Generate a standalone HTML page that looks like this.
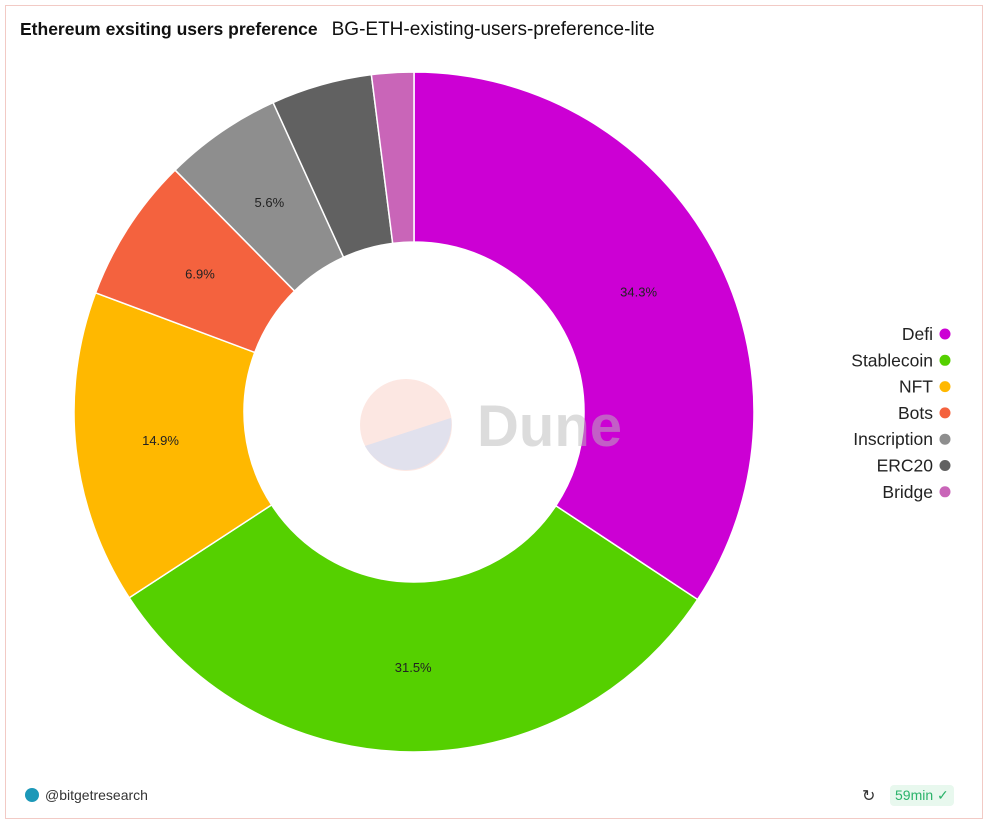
<!DOCTYPE html>
<html><head><meta charset="utf-8"><style>
body{margin:0;width:990px;height:830px;background:#fff;font-family:"Liberation Sans",sans-serif;overflow:hidden}
.card{position:absolute;left:5px;top:5px;width:978px;height:814px;border:1px solid #f2cac5;box-sizing:border-box}
.title{position:absolute;left:20px;top:19px;font-size:19px;color:#111}
.title b{font-weight:bold;font-size:17.5px;margin-right:14px}
.foot{position:absolute;left:25px;top:787px;font-size:14px;color:#333;display:flex;align-items:center}
.dot{width:14px;height:14px;border-radius:50%;background:#1c98b8;margin-right:6px}
.badge{position:absolute;left:890px;top:785px;background:#e8f8ee;color:#2bb36a;font-size:14px;padding:2px 5px;border-radius:4px}
.refresh{position:absolute;left:862px;top:786px;font-size:16px;color:#333}
</style></head><body>
<div class="card"></div>
<div class="title"><b>Ethereum exsiting users preference</b>BG-ETH-existing-users-preference-lite</div>
<svg id="chart" width="990" height="830" style="position:absolute;left:0;top:0"></svg>
<div class="foot"><div class="dot"></div>@bitgetresearch</div>
<div class="refresh">↻</div>
<div class="badge">59min ✓</div>
<script>
const categories=["Defi","Stablecoin","NFT","Bots","Inscription","ERC20","Bridge"];
const values=[34.3,31.5,14.9,6.9,5.6,4.8,2.0];
const colors=["#cc00d4","#55d000","#ffb800","#f4623e","#8e8e8e","#616161","#c965b8"];
const svg=document.getElementById('chart');const NS="http://www.w3.org/2000/svg";
const cx=414,cy=412,R=340,r=170;
const total=values.reduce((a,b)=>a+b,0);
function pt(a,rad){return [cx+rad*Math.sin(a),cy-rad*Math.cos(a)];}
let a0=0;
values.forEach((v,i)=>{
 const a1=a0+v/total*2*Math.PI;const lg=(a1-a0)>Math.PI?1:0;
 const [x0,y0]=pt(a0,R),[x1,y1]=pt(a1,R),[x2,y2]=pt(a1,r),[x3,y3]=pt(a0,r);
 const p=document.createElementNS(NS,'path');
 p.setAttribute('d',`M${x0},${y0}A${R},${R} 0 ${lg} 1 ${x1},${y1}L${x2},${y2}A${r},${r} 0 ${lg} 0 ${x3},${y3}Z`);
 p.setAttribute('fill',colors[i]);p.setAttribute('stroke','#fff');p.setAttribute('stroke-width','1.5');
 
 
 svg.appendChild(p);
 if(v>=5){const [tx,ty]=pt((a0+a1)/2,(R+r)/2);
  const t=document.createElementNS(NS,'text');t.setAttribute('x',tx);t.setAttribute('y',ty+5);
  t.setAttribute('text-anchor','middle');t.setAttribute('font-size','13');t.setAttribute('fill','#222');
  t.textContent=v.toFixed(1)+'%';
  
  
  svg.appendChild(t);}
 a0=a1;
});
const g=document.createElementNS(NS,'g');g.setAttribute('opacity','0.5');


g.innerHTML=`<circle cx="406" cy="425" r="46" fill="#fbd0c6"/><path d="M365,446 L451,418 A46,46 0 0 1 365,446 Z" fill="#c5c4dc"/><path d="M365,446 L451,418 A46,46 0 0 1 370,453 Z" fill="#c5c4dc"/><text x="477" y="446" font-size="58" font-weight="bold" fill="#bbb" font-family="Liberation Sans,sans-serif">Dune</text>`;
svg.appendChild(g);
categories.forEach((c,i)=>{const y=334+i*26.3;
 const t=document.createElementNS(NS,'text');t.setAttribute('x',933);t.setAttribute('y',y+6);
 t.setAttribute('text-anchor','end');t.setAttribute('font-size','17.5');t.setAttribute('fill','#222');t.textContent=c;
 
 
 svg.appendChild(t);
 const d=document.createElementNS(NS,'circle');d.setAttribute('cx',945);d.setAttribute('cy',y);d.setAttribute('r',5.5);d.setAttribute('fill',colors[i]);
 
 
 svg.appendChild(d);});
</script>
</body></html>
